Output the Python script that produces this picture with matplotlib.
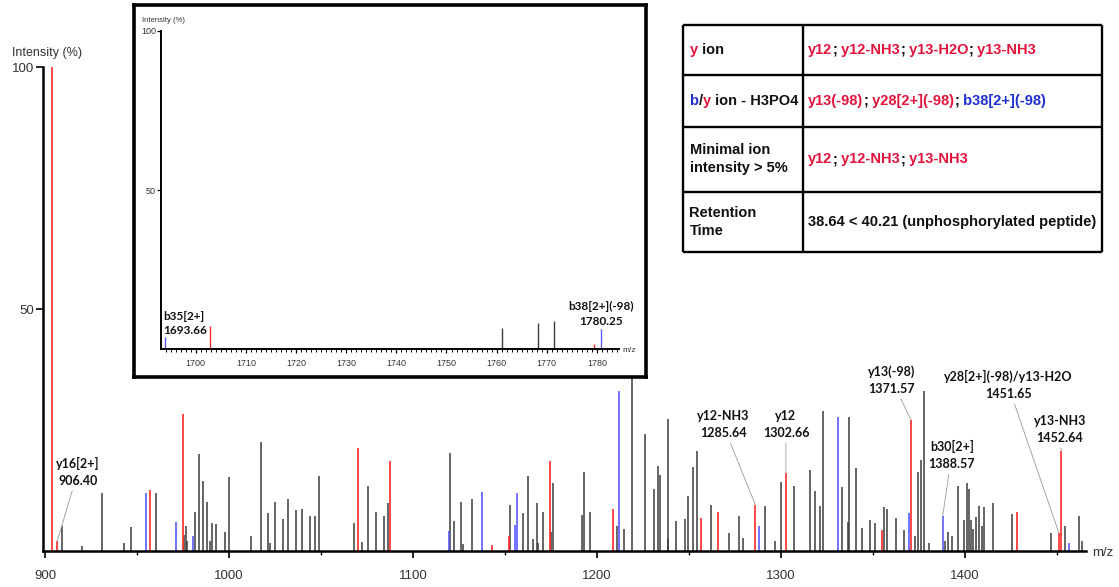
import numpy as np
import matplotlib
matplotlib.use("Agg")
import matplotlib.pyplot as plt
from matplotlib.ticker import MultipleLocator
from matplotlib.offsetbox import AnnotationBbox, HPacker, TextArea

# ---- peak data (m/z, relative intensity %) ----
black_mz = [909.2, 919.9, 930.8, 942.8, 946.7, 960.2, 975.5, 976.6, 977.2, 981.7,
            983.5, 985.7, 987.9, 989.5, 990.8, 993.1, 997.7, 1000.2, 1011.8, 1017.6,
            1021.4, 1022.5, 1025.2, 1029.5, 1032.2, 1036.6, 1039.8, 1044.2, 1046.7, 1048.7,
            1067.9, 1072.3, 1075.5, 1080.1, 1084.2, 1086.2, 1119.9, 1122.4, 1126.1, 1127.2,
            1132.1, 1152.5, 1159.8, 1162.3, 1165.4, 1167.4, 1167.9, 1170.5, 1174.8, 1176.2,
            1191.7, 1192.9, 1196.0, 1210.9, 1214.7, 1218.9, 1226.1, 1231.0, 1233.0, 1234.2,
            1238.4, 1238.8, 1242.8, 1248.0, 1249.6, 1252.2, 1254.2, 1261.8, 1271.9, 1277.2,
            1279.2, 1291.3, 1296.9, 1300.0, 1307.1, 1315.8, 1318.6, 1321.2, 1322.8, 1333.2,
            1336.4, 1337.1, 1340.8, 1344.0, 1348.5, 1351.3, 1356.2, 1357.4, 1362.5, 1366.8,
            1372.7, 1374.6, 1376.1, 1377.5, 1380.3, 1389.3, 1390.6, 1392.9, 1396.2, 1399.5,
            1401.1, 1402.2, 1403.1, 1404.2, 1405.8, 1407.8, 1409.2, 1410.3, 1415.1, 1425.4,
            1446.7, 1454.3, 1461.8, 1463.8]
black_int = [5.2, 1.0, 11.9, 1.6, 4.9, 11.9, 3.4, 5.2, 2.1, 8.1,
             20.0, 14.4, 10.2, 2.1, 5.7, 5.5, 4.0, 15.2, 3.1, 22.5,
             7.8, 1.6, 10.2, 6.6, 10.8, 8.4, 8.7, 7.2, 7.2, 15.5,
             5.7, 1.8, 13.4, 8.1, 7.2, 9.9, 20.3, 6.1, 10.2, 1.5,
             10.8, 9.6, 7.8, 15.5, 2.4, 9.9, 1.6, 8.1, 4.0, 14.1,
             7.4, 16.4, 8.1, 5.2, 4.5, 70.0, 24.2, 12.9, 17.6, 15.8,
             2.5, 27.2, 6.3, 6.7, 11.4, 17.4, 20.7, 9.6, 3.7, 7.2,
             2.7, 9.3, 2.1, 14.3, 13.5, 16.7, 12.3, 9.4, 29.0, 13.2,
             6.0, 27.7, 17.1, 4.8, 6.4, 5.7, 9.0, 8.7, 6.9, 4.3,
             3.0, 16.4, 18.8, 33.1, 1.6, 2.1, 3.9, 3.1, 13.5, 6.4,
             14.0, 12.9, 6.4, 4.5, 7.0, 9.4, 5.2, 9.0, 9.9, 7.6,
             3.7, 5.2, 7.2, 2.1]

red_mz = [904.0, 906.7, 956.9, 974.8, 1069.9, 1087.7, 1143.1, 1152.0, 1174.3, 1208.7,
          1256.5, 1265.6, 1286.0, 1302.7, 1354.7, 1370.7, 1428.1, 1451.1, 1452.3]
red_int = [100.0, 2.1, 12.6, 28.4, 21.2, 18.5, 1.2, 3.0, 18.5, 8.7,
           6.9, 8.1, 9.6, 16.1, 4.3, 27.1, 8.1, 3.7, 20.7]

blue_mz = [954.9, 971.4, 980.4, 1119.4, 1137.3, 1155.6, 1156.5, 1211.9, 1288.0, 1331.1,
           1369.4, 1387.9, 1456.4]
blue_int = [11.9, 6.0, 3.1, 4.2, 12.2, 5.4, 11.9, 33.1, 5.2, 27.7,
            7.8, 7.2, 1.6]

# zoomed inset (1693-1784 m/z)
ins_black_mz = [1761.1, 1768.3, 1771.4]
ins_black_int = [6.5, 8.3, 8.9]
ins_red_mz = [1702.9, 1779.5]
ins_red_int = [7.2, 1.6]
ins_blue_mz = [1693.9, 1780.9]
ins_blue_int = [3.7, 6.2]

# annotations: label, peak m/z, peak intensity, label m/z, label intensity
main_labels = [
    ("y16[2+]\n906.40", 906.7, 2.1, 917.9, 16.4),
    ("y12-NH3\n1285.64", 1286.0, 9.6, 1268.5, 26.1),
    ("y12\n1302.66", 1302.7, 16.1, 1302.7, 26.1),
    ("y13(-98)\n1371.57", 1370.7, 27.1, 1360.2, 35.3),
    ("b30[2+]\n1388.57", 1387.9, 7.2, 1392.8, 19.8),
    ("y28[2+](-98)/y13-H2O\n1451.65", 1451.1, 3.7, 1423.4, 34.3),
    ("y13-NH3\n1452.64", 1452.3, 20.7, 1451.6, 25.1),
]

RED = "#e3143c"
BLUE = "#2030d0"
BLK = "#111111"

table_left = [
    [("y", RED), (" ion", BLK)],
    [("b", BLUE), ("/", BLK), ("y", RED), (" ion - H3PO4", BLK)],
    [("Minimal ion\nintensity > 5%", BLK)],
    [("Retention\nTime", BLK)],
]
table_right = [
    [("y12", RED), (";", BLK), (" y12-NH3", RED), (";", BLK), (" y13-H2O", RED), (";", BLK), (" y13-NH3", RED)],
    [("y13(-98)", RED), (";", BLK), (" y28[2+](-98)", RED), (";", BLK), (" b38[2+](-98)", BLUE)],
    [("y12", RED), (";", BLK), (" y12-NH3", RED), (";", BLK), (" y13-NH3", RED)],
    [("38.64 < 40.21 (unphosphorylated peptide)", BLK)],
]

W, H = 1119, 587
fig = plt.figure(figsize=(W / 100, H / 100), dpi=100)

def fx(px):
    return px / W

def fy(py):
    return 1 - py / H

PK_BLACK = "#3c3c3c"
PK_RED = "#ff2a2a"
PK_BLUE = "#5a5aff"

# ---- main spectrum ----
ax = fig.add_axes([fx(42.7), fy(551), fx(1086) - fx(42.7), fy(67) - fy(551)])
ax.vlines(black_mz, 0, black_int, color=PK_BLACK, lw=1.1)
ax.vlines(red_mz, 0, red_int, color=PK_RED, lw=1.2)
ax.vlines(blue_mz, 0, blue_int, color=PK_BLUE, lw=1.2)
ax.set_xlim(898.75, 1465.8)
ax.set_ylim(0, 100)
for s in ["top", "right"]:
    ax.spines[s].set_visible(False)
for s in ["left", "bottom"]:
    ax.spines[s].set_linewidth(1.8)
ax.set_yticks([50, 100])
ax.xaxis.set_major_locator(MultipleLocator(100))
ax.xaxis.set_minor_locator(MultipleLocator(50))
ax.tick_params(axis="both", which="major", length=5, width=1.2, labelsize=9.5,
               labelcolor="#333333")
ax.tick_params(axis="x", which="major", pad=9)
ax.tick_params(axis="y", which="major", pad=1)
ax.tick_params(axis="x", which="minor", length=3, width=1.0)
for lab in ax.get_xticklabels() + ax.get_yticklabels():
    lab.set_family("Liberation Sans")

for text, pmz, pint, tmz, tint in main_labels:
    ax.annotate(text, xy=(pmz, pint), xytext=(tmz, tint), ha="center", va="center",
                fontsize=9, family="Lato", weight="bold", color="#111111",
                linespacing=1.5,
                arrowprops=dict(arrowstyle="-", color="#9a9a9a", lw=0.6,
                                shrinkA=1, shrinkB=0))

fig.text(fx(12), fy(52.7), "Intensity (%)", fontsize=9, family="Liberation Sans",
         color="#333333", va="center", ha="left")
fig.text(fx(1092), fy(553), "m/z", fontsize=9.5, family="Liberation Sans",
         color="#333333", va="center", ha="left")

# ---- inset frame ----
box = fig.add_axes([fx(134), fy(377), fx(646) - fx(134), fy(5) - fy(377)])
box.set_facecolor("white")
box.set_xticks([])
box.set_yticks([])
for s in box.spines.values():
    s.set_linewidth(2.6)
    s.set_color("black")

ins = fig.add_axes([fx(161), fy(349), fx(619) - fx(161), fy(31) - fy(349)])
ins.patch.set_alpha(0)
ins.vlines(ins_black_mz, 0, ins_black_int, color=PK_BLACK, lw=1.0)
ins.vlines(ins_red_mz, 0, ins_red_int, color=PK_RED, lw=1.0)
ins.vlines(ins_blue_mz, 0, ins_blue_int, color=PK_BLUE, lw=1.0)
ins.set_xlim(1693.07, 1784.4)
ins.set_ylim(0, 100)
for s in ["top", "right"]:
    ins.spines[s].set_visible(False)
for s in ["left", "bottom"]:
    ins.spines[s].set_linewidth(1.4)
ins.set_yticks([50, 100])
ins.xaxis.set_major_locator(MultipleLocator(10))
ins.xaxis.set_minor_locator(MultipleLocator(1))
ins.tick_params(axis="both", which="major", length=3, width=0.9, labelsize=6.5,
                labelcolor="#333333", pad=4)
ins.tick_params(axis="y", pad=0.5)
ins.tick_params(axis="x", which="minor", length=1.8, width=0.7)
for lab in ins.get_xticklabels() + ins.get_yticklabels():
    lab.set_family("Liberation Sans")

ins.text(1693.5, 7.9, "b35[2+]\n1693.66", ha="left", va="center", fontsize=8.5,
         family="Lato", weight="bold", color="#111111", linespacing=1.35)
ins.text(1780.85, 11.0, "b38[2+](-98)\n1780.25", ha="center", va="center", fontsize=8.5,
         family="Lato", weight="bold", color="#111111", linespacing=1.35)
fig.text(fx(142), fy(20), "Intensity (%)", fontsize=5.5, family="Liberation Sans",
         color="#333333", va="center", ha="left")
fig.text(fx(622), fy(351), "m/z", fontsize=6, family="Liberation Sans",
         color="#333333", va="center", ha="left")

# ---- summary table ----
rows = [25, 75, 126.7, 191.7, 252.3]
cols = [683, 803.3, 1101.7]
tax = fig.add_axes([fx(cols[0]), fy(rows[-1]), fx(cols[-1]) - fx(cols[0]), fy(rows[0]) - fy(rows[-1])])
tax.set_xlim(cols[0], cols[-1])
tax.set_ylim(rows[-1], rows[0])
tax.axis("off")
tax.hlines(rows, cols[0], cols[-1], color="black", lw=1.7, clip_on=False)
tax.vlines(cols, rows[0], rows[-1], color="black", lw=1.7, clip_on=False)

tprops = dict(fontsize=10.5, family="Liberation Sans", weight="bold", linespacing=1.4)

def cell(pieces, x, y):
    kids = [TextArea(t, textprops=dict(color=c, **tprops)) for t, c in pieces]
    pack = HPacker(children=kids, sep=0, pad=0, align="baseline")
    ab = AnnotationBbox(pack, (x, y), xycoords="data", box_alignment=(0, 0.5),
                        frameon=False, pad=0, annotation_clip=False)
    tax.add_artist(ab)

for i in range(4):
    yc = (rows[i] + rows[i + 1]) / 2
    cell(table_left[i], cols[0] + 6.5, yc)
    cell(table_right[i], cols[1] + 5, yc)

fig.savefig("out.png", dpi=100)
